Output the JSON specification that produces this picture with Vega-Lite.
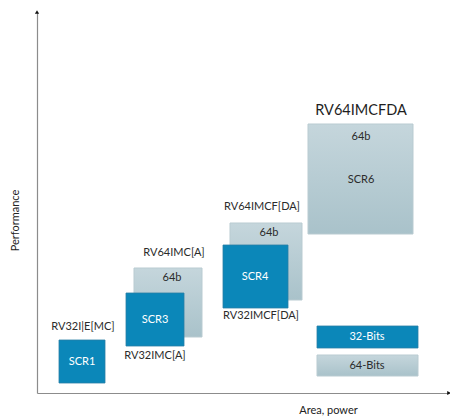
{
  "$schema": "https://vega.github.io/schema/vega-lite/v6.json",
  "width": 412,
  "height": 381,
  "autosize": {"type": "none"},
  "padding": {"left": 37, "top": 12, "right": 1, "bottom": 23},
  "background": "white",
  "datasets": {
    "boxes": [
      {"name": "SCR1", "bits": "32", "a0": 22, "a1": 68, "p0": 10, "p1": 53},
      {"name": "SCR3-64", "bits": "64", "a0": 97, "a1": 165, "p0": 56, "p1": 125},
      {"name": "SCR3", "bits": "32", "a0": 89, "a1": 147, "p0": 47, "p1": 100},
      {"name": "SCR4-64", "bits": "64", "a0": 193, "a1": 265, "p0": 93, "p1": 170},
      {"name": "SCR4", "bits": "32", "a0": 186, "a1": 251, "p0": 85, "p1": 148},
      {"name": "SCR6", "bits": "64", "a0": 271, "a1": 376, "p0": 159, "p1": 269},
      {"name": "legend32", "bits": "32", "a0": 280, "a1": 381, "p0": 45, "p1": 67},
      {"name": "legend64", "bits": "64", "a0": 280, "a1": 381, "p0": 17, "p1": 38}
    ],
    "labels": [
      {"text": "RV32I|E[MC]", "role": "dark", "a": 46, "p": 66},
      {"text": "RV32IMC[A]", "role": "dark", "a": 118, "p": 37},
      {"text": "RV64IMC[A]", "role": "dark", "a": 137, "p": 140},
      {"text": "RV64IMCF[DA]", "role": "dark", "a": 225, "p": 186},
      {"text": "RV32IMCF[DA]", "role": "dark", "a": 224, "p": 77},
      {"text": "64b", "role": "dark", "a": 324, "p": 256},
      {"text": "SCR6", "role": "dark", "a": 324, "p": 213},
      {"text": "64b", "role": "dark", "a": 232, "p": 160},
      {"text": "64b", "role": "dark", "a": 135, "p": 115},
      {"text": "64-Bits", "role": "dark", "a": 330, "p": 27},
      {"text": "SCR4", "role": "white", "a": 218, "p": 116},
      {"text": "SCR3", "role": "white", "a": 118, "p": 73},
      {"text": "SCR1", "role": "white", "a": 45, "p": 31},
      {"text": "32-Bits", "role": "white", "a": 330, "p": 56},
      {"text": "RV64IMCFDA", "role": "title", "a": 324, "p": 282}
    ],
    "arrows": [
      {"a": 0, "p": 381, "shape": "triangle-up"},
      {"a": 412, "p": 0, "shape": "triangle-right"}
    ]
  },
  "config": {
    "view": {"stroke": null},
    "font": "Lato",
    "axis": {
      "domainColor": "#8c8c8c",
      "domainWidth": 1.2,
      "ticks": false,
      "labels": false,
      "grid": false,
      "titleFont": "Lato",
      "titleFontWeight": "normal",
      "titleFontSize": 11,
      "titleColor": "#222222"
    }
  },
  "layer": [
    {
      "data": {"name": "boxes"},
      "transform": [{"filter": "datum.bits === '64'"}],
      "mark": {
        "type": "rect",
        "stroke": "#b9cbd1",
        "strokeWidth": 1,
        "fill": {
          "gradient": "linear", "x1": 0, "y1": 0, "x2": 0, "y2": 1,
          "stops": [{"offset": 0, "color": "#c5d6dc"}, {"offset": 1, "color": "#a9c2ca"}]
        }
      },
      "encoding": {
        "x": {"field": "a0", "type": "quantitative", "scale": {"domain": [0, 412], "nice": false},
              "axis": {"title": "Area, power", "titleX": 291, "titleY": 17, "titleAlign": "center", "titleBaseline": "middle"}},
        "x2": {"field": "a1"},
        "y": {"field": "p0", "type": "quantitative", "scale": {"domain": [0, 381], "nice": false},
              "axis": {"title": "Performance", "titleX": -22, "titleY": 208, "titleAngle": -90, "titleAlign": "center", "titleBaseline": "middle"}},
        "y2": {"field": "p1"}
      }
    },
    {
      "data": {"name": "boxes"},
      "transform": [{"filter": "datum.bits === '32'"}],
      "mark": {"type": "rect", "fill": "#0b87b9", "stroke": "#2a7fa5", "strokeWidth": 0.8},
      "encoding": {
        "x": {"field": "a0", "type": "quantitative"},
        "x2": {"field": "a1"},
        "y": {"field": "p0", "type": "quantitative"},
        "y2": {"field": "p1"}
      }
    },
    {
      "data": {"name": "labels"},
      "transform": [{"filter": "datum.role === 'dark'"}],
      "mark": {"type": "text", "fontSize": 11, "color": "#2b2b2b", "align": "center", "baseline": "middle"},
      "encoding": {
        "x": {"field": "a", "type": "quantitative"},
        "y": {"field": "p", "type": "quantitative"},
        "text": {"field": "text"}
      }
    },
    {
      "data": {"name": "labels"},
      "transform": [{"filter": "datum.role === 'white'"}],
      "mark": {"type": "text", "fontSize": 11, "color": "#ffffff", "align": "center", "baseline": "middle"},
      "encoding": {
        "x": {"field": "a", "type": "quantitative"},
        "y": {"field": "p", "type": "quantitative"},
        "text": {"field": "text"}
      }
    },
    {
      "data": {"name": "labels"},
      "transform": [{"filter": "datum.role === 'title'"}],
      "mark": {"type": "text", "fontSize": 14.5, "color": "#1e1e1e", "align": "center", "baseline": "middle"},
      "encoding": {
        "x": {"field": "a", "type": "quantitative"},
        "y": {"field": "p", "type": "quantitative"},
        "text": {"field": "text"}
      }
    },
    {
      "data": {"name": "arrows"},
      "mark": {"type": "point", "filled": true, "color": "#111111", "size": 18, "opacity": 1},
      "encoding": {
        "x": {"field": "a", "type": "quantitative"},
        "y": {"field": "p", "type": "quantitative"},
        "shape": {"field": "shape", "type": "nominal", "scale": null}
      }
    }
  ]
}
